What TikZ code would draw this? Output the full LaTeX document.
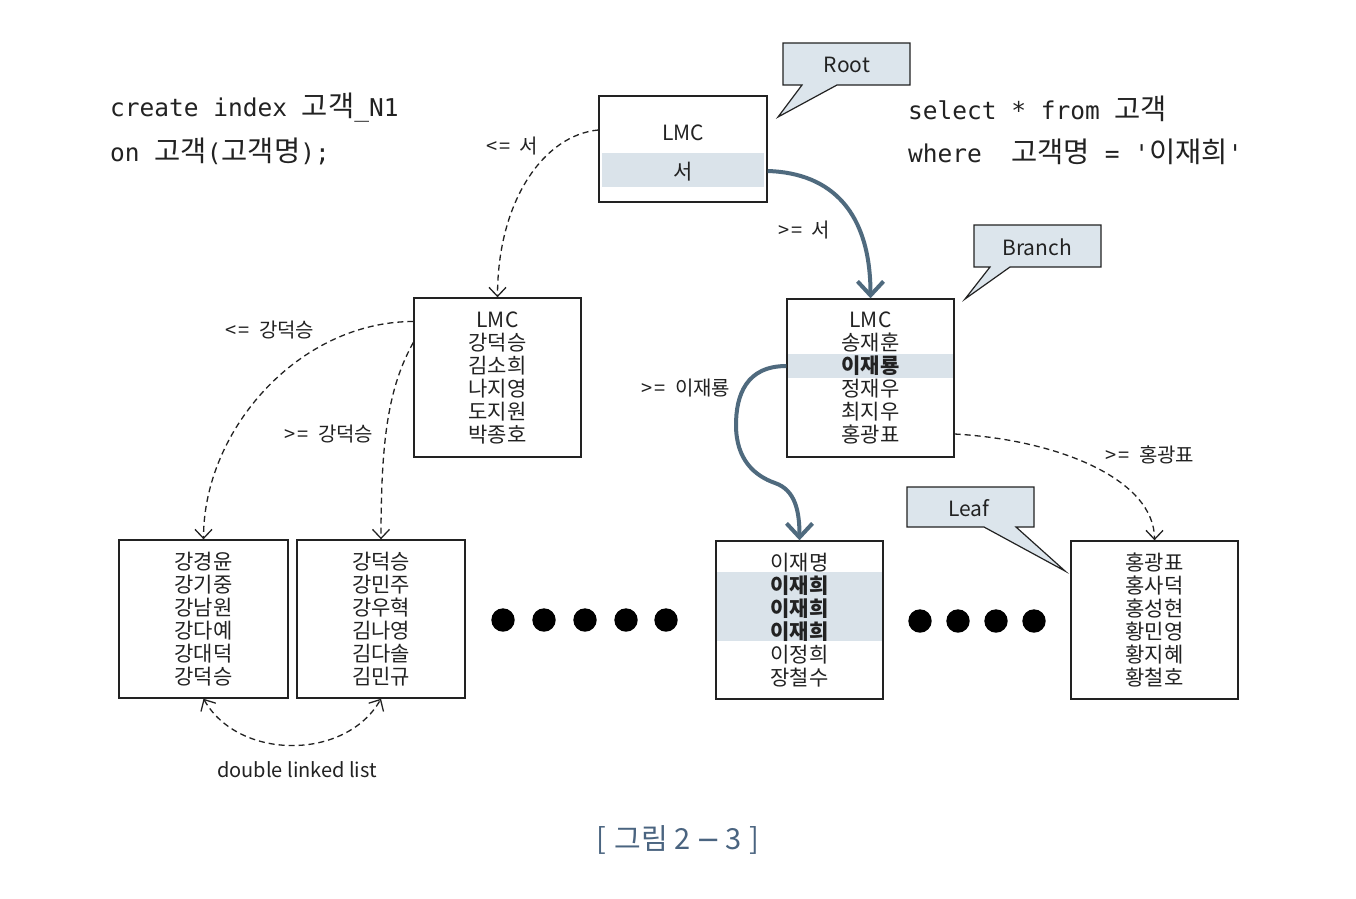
\documentclass[tikz,border=0pt]{standalone}
\usepackage{fontspec}
\setmainfont{Noto Sans CJK KR}
\newfontfamily\mono{DejaVu Sans Mono}[Ligatures=TeXOff]
\newfontfamily\kr{Noto Sans CJK KR}
\newfontfamily\djv{DejaVu Sans}
\usetikzlibrary{arrows.meta,calc}
\definecolor{band}{HTML}{DAE3EA}
\definecolor{callfill}{HTML}{DCE5EC}
\definecolor{thickc}{HTML}{4F6A7E}
\definecolor{capcol}{HTML}{4A6480}
\definecolor{ink}{HTML}{222222}
\newcommand{\KC}[1]{{\kr\fontsize{28.5}{30}\selectfont #1}}
\newcommand{\LE}{<\hspace{2pt}=\hspace{9pt}}
\newcommand{\GE}{>\hspace{2pt}=\hspace{9pt}}
\tikzset{
 box/.style={draw=ink, line width=1.4pt, minimum width=168pt, minimum height=158pt, inner sep=0pt, align=center, font=\fontsize{21}{23}\selectfont, text=ink},
 boxtext/.style={inner sep=0pt, align=center, text=ink},
 lbl/.style={font=\fontsize{20}{24}\selectfont, text=ink, inner sep=0pt},
 code/.style={font=\mono\fontsize{24.5}{30}\selectfont, text=ink, inner sep=0pt, anchor=base west},
 dashlink/.style={draw=ink, line width=1.3pt, dash pattern=on 6pt off 4pt, -{Straight Barb[length=9pt,width=17pt]}},
 dbllink/.style={draw=ink, line width=1.3pt, dash pattern=on 6pt off 4pt, {Straight Barb[length=9pt,width=17pt]}-{Straight Barb[length=9pt,width=17pt]}},
 thicklink/.style={draw=thickc, line width=4pt, -{Straight Barb[length=14pt,width=26pt]}},
 callout/.style={draw=ink, line width=1.2pt, fill=callfill, line join=miter},
 calltext/.style={font=\fontsize{21}{24}\selectfont, text=ink, inner sep=0pt},
 dot/.style={fill=black},
}
\begin{document}
\begin{tikzpicture}[x=1pt,y=1pt]
\fill[white] (0,0) rectangle (1356,-898);
\useasboundingbox (0,0) rectangle (1356,-898);

% shaded bands
\fill[band] (602,-153) rectangle (764,-187);
\fill[band] (788,-354) rectangle (953,-378);
\fill[band] (717,-572) rectangle (882,-641);

% boxes
\node[box, minimum height=106pt] (root) at (683,-149) {};
\node[boxtext, font=\fontsize{21}{39}\selectfont] (roottext) at (683,-153) {LMC\\서};
\node[box, minimum width=167pt, minimum height=159pt] (lb) at (497.5,-377.5) {LMC\\강덕승\\김소희\\나지영\\도지원\\박종호};
\node[box, minimum width=167pt] (rb) at (870.5,-378) {LMC\\송재훈\\\textbf{이재룡}\\정재우\\최지우\\홍광표};
\node[box, minimum width=169pt] (l1) at (203.5,-619) {강경윤\\강기중\\강남원\\강다예\\강대덕\\강덕승};
\node[box] (l2) at (381,-619) {강덕승\\강민주\\강우혁\\김나영\\김다솔\\김민규};
\node[box, minimum width=167pt] (l3) at (799.5,-620) {이재명\\\textbf{이재희}\\\textbf{이재희}\\\textbf{이재희}\\이정희\\장철수};
\node[box, minimum width=167pt] (l4) at (1154.5,-620) {홍광표\\홍사덕\\홍성현\\황민영\\황지혜\\황철호};

% dots
\foreach \x in {503,544,585,626,666} \fill[dot] (\x,-620) circle (11.7);
\foreach \x in {920,958,996,1034} \fill[dot] (\x,-621) circle (11.7);

% connectors
\coordinate (bendA) at (736,-425);
\coordinate (bendB) at (775,-483);
\draw[dashlink] ($(root.west)+(0,19)$) .. controls +(-54,-5) and +(0,97) .. (lb.north);
\draw[thicklink] ($(root.east)+(0,-22)$) .. controls +(65,-2) and +(0,85) .. (rb.north);
\draw[dashlink] ($(lb.west)+(0,56)$) .. controls +(-114,0) and +(0,110) .. (l1.north);
\draw[dashlink] ($(lb.west)+(0,35)$) .. controls +(-25,-45) and +(0,100) .. (l2.north);
\draw[thicklink] ($(rb.west)+(0,12)$) .. controls +(-40,0) and +(0,30) .. (bendA) .. controls +(0,-35) and +(-20,7) .. (bendB) .. controls +(20,-7) and +(0,30) .. (l3.north);
\draw[dashlink] ($(rb.east)+(0,-56)$) .. controls +(106,-6) and +(0,60) .. (l4.north);
\draw[dbllink] (l1.south) .. controls +(35,-62) and +(-35,-62) .. (l2.south);

% callouts
\draw[callout] (783,-43) -- (910,-43) -- (910,-85) -- (837,-85) -- (778,-117) -- (802,-85) -- (783,-85) -- cycle;
\node[calltext] (rootcall) at (847,-65) {Root};
\draw[callout] (974,-225) -- (1101,-225) -- (1101,-267) -- (1010,-267) -- (965,-299) -- (990,-267) -- (974,-267) -- cycle;
\node[calltext] (branchcall) at (1037,-247) {Branch};
\draw[callout] (907,-487) -- (1034,-487) -- (1034,-527) -- (1016,-527) -- (1065,-571) -- (984,-527) -- (907,-527) -- cycle;
\node[calltext] (leafcall) at (969,-508) {Leaf};

% labels
\node[lbl] (la) at (512,-146) {\LE 서};
\node[lbl] (lbb) at (804,-230) {\GE 서};
\node[lbl] (lc) at (270,-330) {\LE 강덕승};
\node[lbl] (ld) at (329,-434) {\GE 강덕승};
\node[lbl] (le) at (686,-388) {\GE 이재룡};
\node[lbl] (lf) at (1150,-455) {\GE 홍광표};
\node[lbl] (lg) at (297,-770) {double linked list};

% code
\node[code] (c1) at (110,-116) {create index \KC{고객}\_N1};
\node[code] (c2) at (110,-161) {on \KC{고객}(\KC{고객명});};
\node[code] (c3) at (908,-119) {select * from \KC{고객}};
\node[code] (c4) at (908,-162) {where\ \ \KC{고객명} = '\KC{이재희}'};

% caption
\node[font=\fontsize{29}{32}\selectfont, text=capcol, inner sep=0pt] (cap) at (678,-840) {[\hspace{8pt}그림\hspace{7pt}2\hspace{5pt}{\djv −}\hspace{5pt}3\hspace{8pt}]};
\end{tikzpicture}
\end{document}
